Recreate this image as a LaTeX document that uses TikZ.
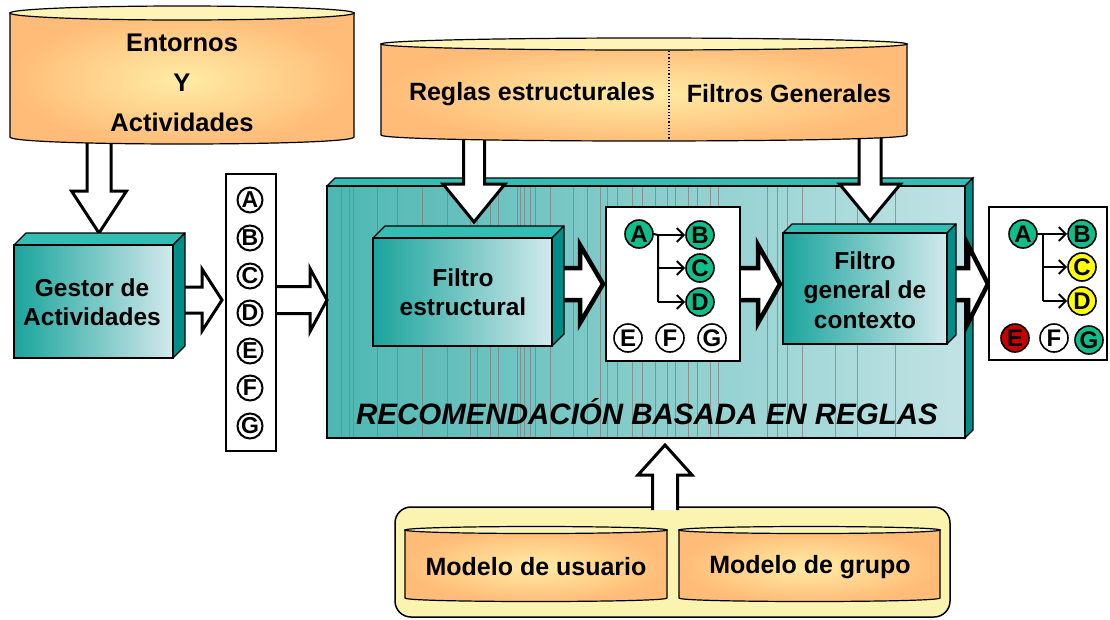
\documentclass[tikz,border=0pt]{standalone}
\usepackage{fontspec}
\setmainfont{Liberation Sans}
\usetikzlibrary{arrows.meta}
\definecolor{tealA}{RGB}{26,164,156}
\definecolor{tealL}{RGB}{210,233,236}
\definecolor{tealTop}{RGB}{50,189,181}
\definecolor{tealSide}{RGB}{0,140,135}
\definecolor{orA}{RGB}{255,188,120}
\definecolor{orC}{RGB}{255,236,165}
\definecolor{cylTop}{RGB}{255,244,184}
\definecolor{grp}{RGB}{251,243,176}
\definecolor{ballG}{RGB}{16,190,140}
\definecolor{ballY}{RGB}{255,255,0}
\definecolor{ballR}{RGB}{200,0,0}
\definecolor{stripe}{RGB}{135,120,120}
\pgfdeclarehorizontalshading{bigsh}{100bp}{color(0bp)=(tealA); color(3bp)=(tealA); color(82bp)=(tealL); color(100bp)=(tealL)}
\newcommand\mycyl[5]{%
  \shadedraw[inner color=orC, outer color=orA, draw=black, line width=1.2pt]
    (#1,#3) -- (#1,#4) .. controls (#1,{#4+1.333*#5}) and (#2,{#4+1.333*#5}) .. (#2,#4) -- (#2,#3) -- cycle;
  \filldraw[fill=cylTop, line width=1.2pt] ({(#1+#2)/2},#3) ellipse [x radius={(#2-#1)/2*1pt}, y radius={#5*1pt}];
}
\newcommand\boxthree[5]{%
  \filldraw[fill=tealTop, line width=1.2pt, line join=round] (#1,#2) -- ({#1+#5},{#2-#5}) -- ({#3+#5},{#2-#5}) -- (#3,#2) -- cycle;
  \filldraw[fill=tealSide, line width=1.2pt, line join=round] (#3,#2) -- ({#3+#5},{#2-#5}) -- ({#3+#5},{#4-#5}) -- (#3,#4) -- cycle;
  \shadedraw[left color=tealA, right color=tealL, draw=black, line width=1.2pt] (#1,#2) rectangle (#3,#4);
}
% cx, y0, yhead, ytip, shaft half width, head half width
\newcommand\blkdown[7][3pt]{%
  \filldraw[fill=white, line width=#1, line join=miter] ({#2-#6},#3) -- ({#2-#6},#4) -- ({#2-#7},#4) -- (#2,#5) -- ({#2+#7},#4) -- ({#2+#6},#4) -- ({#2+#6},#3);
}
% cy, x0, xhead, xtip, shaft half width, head half width
\newcommand\blkright[7][3pt]{%
  \filldraw[fill=white, line width=#1, line join=miter] (#3,{#2-#6}) -- (#4,{#2-#6}) -- (#4,{#2-#7}) -- (#5,#2) -- (#4,{#2+#7}) -- (#4,{#2+#6}) -- (#3,{#2+#6});
}
\tikzset{
  lbl/.style={font=\fontsize{24.5}{29.5}\selectfont\bfseries, align=center, inner sep=0pt},
  big/.style={font=\fontsize{25}{25}\selectfont\bfseries, inner sep=0pt},
  ball/.style={circle, draw=black, line width=1.6pt, minimum size=28pt, inner sep=0pt, font=\fontsize{24}{24}\selectfont\bfseries},
  sball/.style={circle, draw=black, line width=2pt, fill=white, minimum size=25pt, inner sep=0pt, font=\fontsize{23}{23}\selectfont\bfseries},
  conn/.style={line width=2pt},
  connar/.style={line width=2pt, -{Straight Barb[length=7pt,width=14pt,line width=2pt]}},
}
\begin{document}
\begin{tikzpicture}[x=1pt,y=-1pt]
\useasboundingbox (0,0) rectangle (1110,619);
% big box
\filldraw[fill=tealTop, line width=1.2pt] (327,186) -- (335,178) -- (973,178) -- (965,186) -- cycle;
\filldraw[fill=tealSide, line width=1.2pt] (965,186) -- (973,178) -- (973,430) -- (965,438) -- cycle;
\shade[shading=bigsh] (327,186) rectangle (965,438);
\foreach \sx in {341,349,353,377,397,422,447,470,477,490,498,517,520,524,530,535,550,573,587,600,607,617,632,642,655,667,675,688,697,710,718,767,777,787,802,835,857,895}
  \draw[stripe, line width=0.6pt, opacity=0.7] (\sx,187) -- (\sx,437);
\draw[line width=1.2pt] (327,186) rectangle (965,438);
\node[font=\fontsize{29.5}{29.5}\selectfont\bfseries\itshape, inner sep=0pt] (reco) at (647,412) {RECOMENDACIÓN BASADA EN REGLAS};
% bottom group
\draw[fill=grp, line width=1.5pt, rounded corners=16pt] (395,507) rectangle (950,617);
\blkdown{665}{510}{475}{445}{12.5}{27}
% block arrows
\blkdown{99}{130}{191}{233}{12}{27.5}
\blkdown{474}{130}{184}{222}{10.5}{31}
\blkdown{870}{130}{184}{221}{11}{30.5}
\blkright{300}{178}{202}{222}{13}{31}
\blkright{300}{270}{310}{327}{13.5}{31.5}
\blkright[4.5pt]{284}{556}{580}{603}{16}{39}
\blkright[4.5pt]{284}{735}{758}{780}{16}{39}
\blkright[4.5pt]{284}{950}{968}{988}{16}{39}
% cylinders
\mycyl{10}{354}{13}{137}{7}
\node[font=\fontsize{25.5}{40}\selectfont\bfseries, align=center, inner sep=0pt] (ent) at (182,83) {Entornos\\Y\\Actividades};
\mycyl{381}{907}{44}{135}{6}
\draw[line width=1.2pt, dotted] (669,51) -- (669,140);
\node[big] (reglas) at (532,94) {Reglas estructurales};
\node[big] (filtros) at (789,94) {Filtros Generales};
\mycyl{405}{667}{530}{598}{3.5}
\mycyl{679}{940}{530}{598}{3.5}
\node[big] (musr) at (536,567) {Modelo de usuario};
\node[big] (mgrp) at (810,567) {Modelo de grupo};
% 3d boxes
\boxthree{14}{245}{173}{358}{12}
\node[lbl] (gestor) at (92,302) {Gestor de\\Actividades};
\boxthree{373}{238}{552}{346}{12}
\node[lbl] (fest) at (463,292) {Filtro\\estructural};
\boxthree{783}{233}{947}{344}{9}
\node[lbl] (fgen) at (865,290) {Filtro\\general de\\contexto};
% list box
\filldraw[fill=white, line width=1.2pt] (226,174) rectangle (276,451);
\foreach \L/\yy in {A/200,B/238,C/276,D/313,E/351,F/388,G/426}
  \node[sball] (l\L) at (250,\yy) {\L};
% middle box
\filldraw[fill=white, line width=1.2pt] (606,207) rectangle (740,361);
\node[ball, fill=ballG] (mA) at (639,234) {A};
\node[ball, fill=ballG] (mB) at (700,235) {B};
\node[ball, fill=ballG] (mC) at (700,268) {C};
\node[ball, fill=ballG] (mD) at (700,302) {D};
\node[ball, fill=white] (mE) at (628,338) {E};
\node[ball, fill=white] (mF) at (670,338) {F};
\node[ball, fill=white] (mG) at (712,338) {G};
\coordinate (mj1) at (658,235);
\coordinate (mj2) at (658,302);
\draw[conn] (mA.east) -- (mj1) -- (mj2);
\draw[connar] (mj1) -- (mB.west);
\draw[connar] (mj1 |- mC) -- (mC.west);
\draw[connar] (mj2) -- (mD.west);
% result box
\filldraw[fill=white, line width=1.2pt] (989,207) rectangle (1107,360);
\node[ball, fill=ballG] (rA) at (1023,234) {A};
\node[ball, fill=ballG] (rB) at (1082,234) {B};
\node[ball, fill=ballY] (rC) at (1082,267) {C};
\node[ball, fill=ballY] (rD) at (1082,301) {D};
\node[ball, fill=ballR] (rE) at (1015,338) {E};
\node[ball, fill=white] (rF) at (1054,338) {F};
\node[ball, fill=ballG] (rG) at (1089,340) {G};
\coordinate (rj1) at (1043,234);
\coordinate (rj2) at (1043,301);
\draw[conn] (rA.east) -- (rj1) -- (rj2);
\draw[connar] (rj1) -- (rB.west);
\draw[connar] (rj1 |- rC) -- (rC.west);
\draw[connar] (rj2) -- (rD.west);
\end{tikzpicture}
\end{document}
